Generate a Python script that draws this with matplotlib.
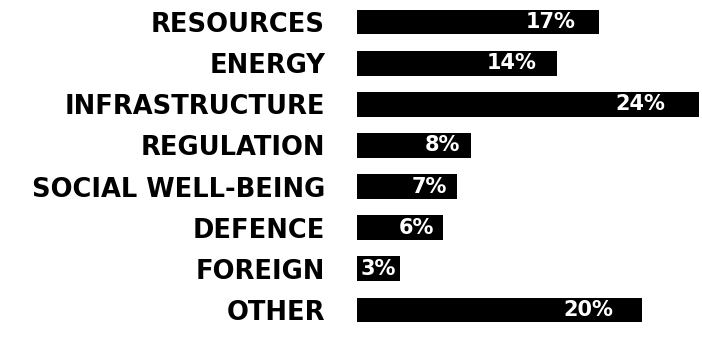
import numpy as np
import matplotlib
matplotlib.use("Agg")
import matplotlib.pyplot as plt

# data
categories = ["RESOURCES", "ENERGY", "INFRASTRUCTURE", "REGULATION",
              "SOCIAL WELL-BEING", "DEFENCE", "FOREIGN", "OTHER"]
values = [17, 14, 24, 8, 7, 6, 3, 20]
labels = ["17%", "14%", "24%", "8%", "7%", "6%", "3%", "20%"]

plt.rcParams['font.family'] = ['DejaVu Sans']

fig = plt.figure(figsize=(7.02, 3.5), dpi=100)
ax = fig.add_axes([357 / 702, 19.5 / 350, 345 / 702, 329 / 350])

y = np.arange(len(categories))
ax.barh(y, values, height=0.6, color="black")

# percent labels, white, inside the bars towards the end
for yi, v, lab in zip(y, values, labels):
    ax.text(v * 0.9, yi, lab, ha="right", va="center", color="white",
            fontsize=15, fontweight="bold")

ax.set_ylim(len(categories) - 0.5, -0.5)
ax.set_xlim(0, 24.2)
ax.set_yticks(y)
ax.set_yticklabels(categories, fontsize=18.5, fontweight="bold")
ax.tick_params(axis="y", length=0, pad=23)
ax.set_xticks([])
for s in ax.spines.values():
    s.set_visible(False)

fig.savefig("out.png", dpi=100)
